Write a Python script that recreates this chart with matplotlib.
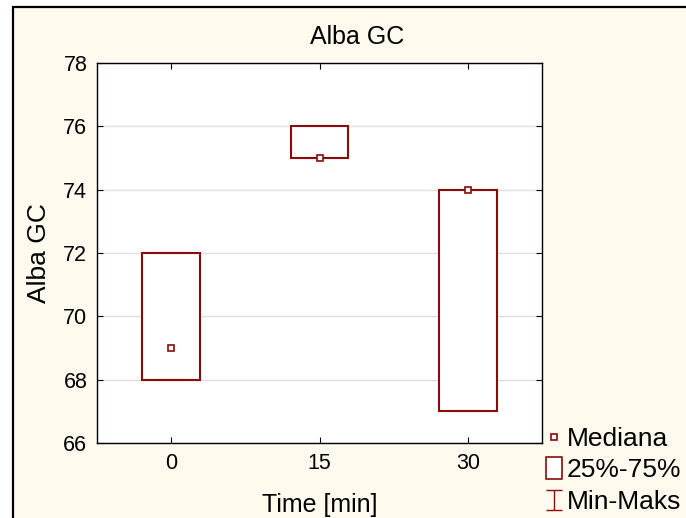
import numpy as np
import matplotlib.pyplot as plt
from matplotlib.patches import Rectangle
from matplotlib.lines import Line2D
from matplotlib.path import Path

plt.rcParams['font.family'] = ['Liberation Sans', 'DejaVu Sans']

# Data
times = ['0', '15', '30']
medians = [69, 75, 74]
q25 = [68, 75, 67]
q75 = [72, 76, 74]
mins = [68, 75, 67]
maxs = [72, 76, 74]

dark_red = '#8b0a0a'
cream = '#fff9ee'

fig = plt.figure(figsize=(6.86, 5.18), dpi=100, facecolor='white')

# outer frame (cream panel)
frame = Rectangle((13 / 686, -0.05), 1.0, 1 - 7 / 518 + 0.05, transform=fig.transFigure,
                  facecolor=cream, edgecolor='black', lw=1.6, zorder=-10)
fig.patches.append(frame)

ax = fig.add_axes([97 / 686, 1 - 443 / 518, (542 - 97) / 686, (443 - 63) / 518])
ax.set_facecolor('white')

x = np.arange(len(times))
box_w = 0.39
cap_w = 0.2

for i in x:
    # whiskers (min-max)
    ax.plot([i, i], [mins[i], q25[i]], color=dark_red, lw=1, alpha=0.6, zorder=2)
    ax.plot([i, i], [q75[i], maxs[i]], color=dark_red, lw=1, alpha=0.6, zorder=2)
    ax.plot([i - cap_w / 2, i + cap_w / 2], [mins[i], mins[i]], color=dark_red, lw=1.5, alpha=0.55, zorder=4)
    ax.plot([i - cap_w / 2, i + cap_w / 2], [maxs[i], maxs[i]], color=dark_red, lw=1.5, alpha=0.55, zorder=4)
    # box
    ax.add_patch(Rectangle((i - box_w / 2, q25[i]), box_w, q75[i] - q25[i],
                           facecolor='white', edgecolor=dark_red, lw=1.5, zorder=3))

ax.plot(x, medians, linestyle='none', marker='s', markersize=4, markerfacecolor='white',
        markeredgecolor=dark_red, markeredgewidth=1.2, zorder=5)

ax.set_xlim(-0.5, 2.5)
ax.set_ylim(66, 78)
ax.set_xticks(x)
ax.set_xticklabels(times)
ax.set_yticks(np.arange(66, 79, 2))
ax.tick_params(direction='in', length=4, width=0.8, labelsize=15.5, pad=7,
               top=True, right=True)
ax.grid(axis='y', color='#e0e0e0', lw=1)
ax.set_axisbelow(True)
for s in ax.spines.values():
    s.set_linewidth(1)
    s.set_color('black')

ax.set_title('Alba GC', fontsize=18, pad=14, x=0.584)
ax.set_xlabel('Time [min]', fontsize=18, labelpad=14)
ax.set_ylabel('Alba GC', fontsize=19, labelpad=9)

# legend markers
box_marker = Path([(-0.37, -0.5), (0.37, -0.5), (0.37, 0.5), (-0.37, 0.5), (-0.37, -0.5)],
                  [Path.MOVETO, Path.LINETO, Path.LINETO, Path.LINETO, Path.CLOSEPOLY])
whisk_marker = Path([(-0.37, -0.5), (0.37, -0.5), (0, -0.5), (0, 0.5), (-0.37, 0.5), (0.37, 0.5)],
                    [Path.MOVETO, Path.LINETO, Path.MOVETO, Path.LINETO, Path.MOVETO, Path.LINETO])
handles = [
    Line2D([], [], linestyle='none', marker='s', markersize=5, markerfacecolor='white',
           markeredgecolor=dark_red, markeredgewidth=1.2),
    Line2D([], [], linestyle='none', marker=box_marker, markersize=16, markerfacecolor='white',
           markeredgecolor=dark_red, markeredgewidth=1.2),
    Line2D([], [], linestyle='none', marker=whisk_marker, markersize=15, markerfacecolor='none',
           markeredgecolor=dark_red, markeredgewidth=1.0),
]
fig.legend(handles, ['Mediana', '25%-75%', 'Min-Maks'], loc='upper left',
           bbox_to_anchor=(546 / 686, 1 - 427 / 518), frameon=False, fontsize=19,
           handlelength=0.6, handletextpad=0.2, labelspacing=0.28, borderaxespad=0,
           borderpad=0)

fig.savefig('out.png', dpi=100, facecolor=fig.get_facecolor())
